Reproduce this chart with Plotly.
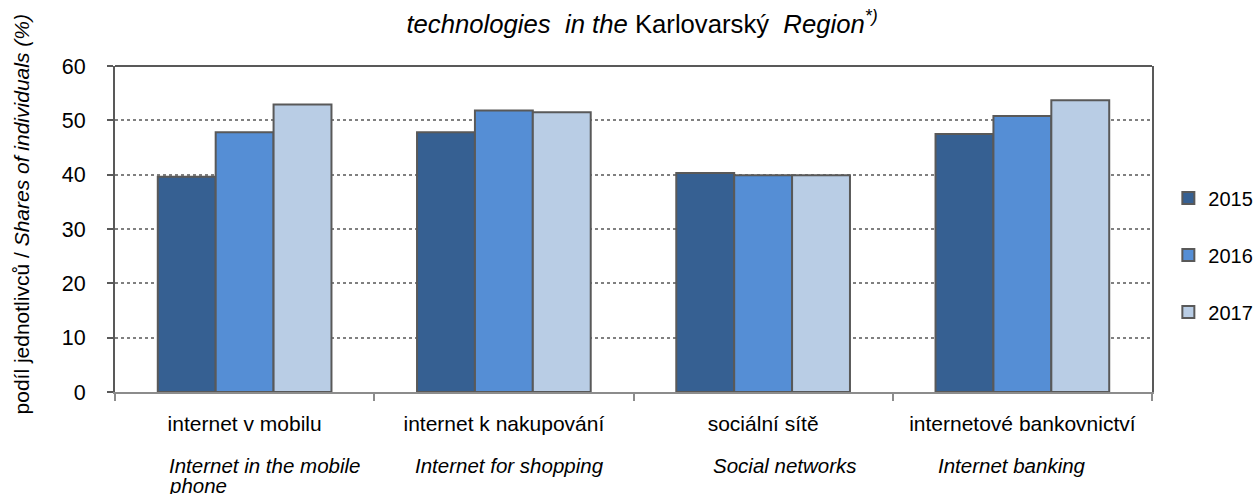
import plotly.graph_objects as go

categories_cz = ["internet v mobilu", "internet k nakupování", "sociální sítě", "internetové bankovnictví"]
categories_en_line1 = ["Internet in the mobile", "Internet for shopping", "Social networks", "Internet banking"]
categories_en_line2 = ["phone", "", "", ""]
years = ["2015", "2016", "2017"]
values_2015 = [39.6, 47.8, 40.3, 47.5]
values_2016 = [47.8, 51.8, 39.9, 50.8]
values_2017 = [52.9, 51.5, 39.9, 53.7]
series_values = [values_2015, values_2016, values_2017]
colors = ["#366092", "#558ED5", "#B9CDE5"]
y_ticks = [0, 10, 20, 30, 40, 50, 60]

FONT = "Liberation Sans, Arial, sans-serif"

# label placement (styling only)
en_anchor = ["left", "center", "center", "center"]
en_shift = [-78, 6, 22, -10]

fig = go.Figure()
for yr, vals, col in zip(years, series_values, colors):
    fig.add_trace(go.Bar(
        x=categories_cz, y=vals, name=yr, legendgroup=yr,
        marker=dict(color=col, line=dict(color="#595959", width=2)),
    ))

for cat, l1, l2, anc, sh in zip(categories_cz, categories_en_line1, categories_en_line2, en_anchor, en_shift):
    box = dict(height=20) if l2 else {}
    fig.add_annotation(
        x=cat, xref="x", y=-0.224, yref="paper", yanchor="middle",
        xanchor=anc, xshift=sh,
        text="<i>" + l1 + "</i>", showarrow=False,
        font=dict(family=FONT, size=20.5, color="#000000"), **box,
    )
    if l2:
        fig.add_annotation(
            x=cat, xref="x", y=-0.2855, yref="paper", yanchor="middle",
            xanchor=anc, xshift=sh, height=20,
            text="<i>" + l2 + "</i>", showarrow=False,
            font=dict(family=FONT, size=20.5, color="#000000"),
        )

fig.add_annotation(
    x=0, xref="paper", xshift=-107, y=0.543, yref="paper",
    text="podíl jednotlivců / <i>Shares of individuals (%)</i>",
    textangle=-90, showarrow=False,
    font=dict(family=FONT, size=21, color="#000000"),
)

fig.add_shape(type="line", xref="paper", yref="paper", x0=0, x1=1, y0=1, y1=1,
              line=dict(color="#595959", width=2))

fig.update_layout(
    width=1259, height=494,
    margin=dict(l=115, r=107, t=66, b=102),
    paper_bgcolor="white", plot_bgcolor="white",
    font=dict(family=FONT, size=20, color="#000000"),
    title=dict(
        text="<i>technologies\u00a0 in the</i> Karlovarský\u00a0 <i>Region</i><sup><i>*)</i></sup>",
        x=0.510, xref="container", xanchor="center",
        y=0.952, yref="container", yanchor="middle",
        font=dict(family=FONT, size=25.7, color="#000000"),
    ),
    barmode="group", bargap=0.33, bargroupgap=0,
    showlegend=True,
    legend=dict(
        x=0.928, xref="container", xanchor="left",
        y=0.655, yanchor="top",
        font=dict(family=FONT, size=20, color="#000000"),
        tracegroupgap=28, itemwidth=30,
    ),
    xaxis=dict(
        showline=True, linecolor="#8c8c8c", linewidth=2,
        ticks="outside", tickson="boundaries", ticklen=7, tickcolor="#8c8c8c", tickwidth=2,
        ticklabelstandoff=12,
        tickfont=dict(family=FONT, size=21, color="#000000"),
        showgrid=False,
    ),
    yaxis=dict(
        range=[0, 60], tickvals=y_ticks,
        showline=True, linecolor="#595959", linewidth=2, mirror=True,
        ticks="outside", ticklen=6, tickcolor="#595959", tickwidth=2,
        ticklabelstandoff=17,
        showgrid=True, gridcolor="#808080", gridwidth=1.5, griddash="dot",
        zeroline=False,
        tickfont=dict(family=FONT, size=21.5, color="#000000"),
    ),
)

fig.write_html("out.html", config={"displayModeBar": False},
               post_script="document.body.style.margin='0px';")
